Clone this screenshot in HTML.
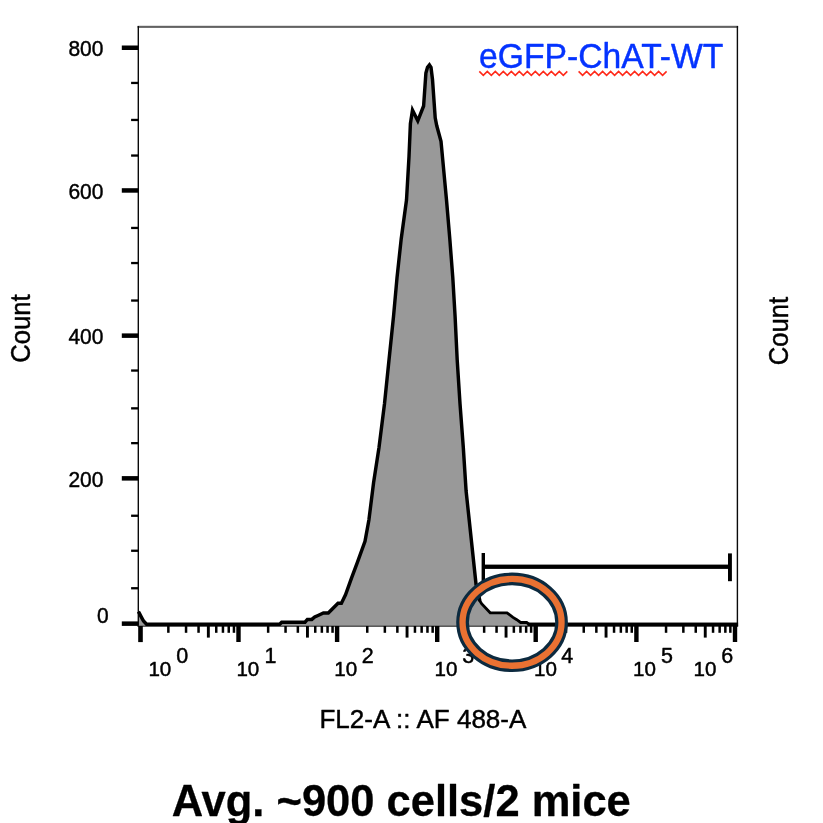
<!DOCTYPE html>
<html><head><meta charset="utf-8"><title>eGFP-ChAT-WT</title>
<style>
html,body{margin:0;padding:0;background:#fff;}
body{width:823px;height:823px;overflow:hidden;}
svg{display:block;}
text{font-family:"Liberation Sans",sans-serif;fill:#000;stroke:#000;stroke-width:0.45px;stroke-linejoin:round;}
</style></head><body>
<svg width="823" height="823" viewBox="0 0 823 823">
<rect x="0" y="0" width="823" height="823" fill="#fff"/>
<path d="M138.4 611.6 L139.3 613.2 L141.1 616.6 L143.5 621.0 L146.6 624.3 L279.7 624.3 L281.7 622.2 L305.0 622.2 L307.4 619.4 L311.8 619.4 L314.7 617.0 L318.6 615.2 L323.4 613.0 L328.3 613.0 L338.0 603.2 L341.4 603.2 L345.5 594.8 L351.4 578.3 L357.2 562.8 L365.0 541.4 L368.9 520.0 L373.6 482.5 L379.0 447.5 L384.5 403.7 L389.0 360.0 L393.5 316.6 L397.0 277.8 L401.2 238.9 L406.5 200.0 L409.0 156.6 L410.4 123.6 L412.5 110.2 L417.8 120.8 L423.6 106.0 L425.9 73.0 L427.5 67.2 L429.4 64.9 L431.0 67.4 L432.5 79.5 L435.2 117.8 L436.7 125.5 L441.0 141.2 L446.5 200.0 L449.8 238.9 L452.8 277.8 L455.1 316.6 L457.2 360.0 L460.0 403.7 L463.3 447.5 L466.1 491.0 L469.2 520.0 L476.0 584.0 L479.9 601.0 L481.6 603.6 L490.2 612.8 L507.0 612.8 L513.0 617.4 L516.8 619.7 L520.6 622.5 L526.7 622.5 L529.2 624.3 L737.6 624.3 L737.6 626.3 L138.2 626.3 Z" fill="#999999" stroke="none"/>
<rect x="137.6" y="25.8" width="600.5" height="2.1" fill="#626262"/>
<rect x="137.6" y="26" width="1.4" height="600.6" fill="#0a0a0a"/>
<rect x="736.7" y="26" width="1.4" height="600.6" fill="#0a0a0a"/>
<rect x="137.6" y="625.6" width="600.5" height="1.2" fill="#3a3a3a"/>
<path d="M476.0 584.0 L479.9 601.0 L481.6 603.6 L490.2 612.8 L507.0 612.8 L513.0 617.4 L516.8 619.7 L520.6 622.5 L526.7 622.5 L529.2 624.3" fill="none" stroke="#000" stroke-width="2.8" stroke-linejoin="miter" stroke-miterlimit="6" stroke-linecap="butt"/>
<path d="M138.4 611.6 L139.3 613.2 L141.1 616.6 L143.5 621.0 L146.6 624.3 L279.7 624.3 L281.7 622.2 L305.0 622.2 L307.4 619.4 L311.8 619.4 L314.7 617.0 L318.6 615.2 L323.4 613.0 L328.3 613.0 L338.0 603.2 L341.4 603.2 L345.5 594.8 L351.4 578.3 L357.2 562.8 L365.0 541.4 L368.9 520.0 L373.6 482.5 L379.0 447.5 L384.5 403.7 L389.0 360.0 L393.5 316.6 L397.0 277.8 L401.2 238.9 L406.5 200.0 L409.0 156.6 L410.4 123.6 L412.5 110.2 L417.8 120.8 L423.6 106.0 L425.9 73.0 L427.5 67.2 L429.4 64.9 L431.0 67.4 L432.5 79.5 L435.2 117.8 L436.7 125.5 L441.0 141.2 L446.5 200.0 L449.8 238.9 L452.8 277.8 L455.1 316.6 L457.2 360.0 L460.0 403.7 L463.3 447.5 L466.1 491.0 L469.2 520.0 L476.0 584.0 L479.9 601.0" fill="none" stroke="#000" stroke-width="3.45" stroke-linejoin="miter" stroke-miterlimit="6" stroke-linecap="butt"/>
<rect x="527.5" y="622.55" width="210.6" height="3.5" fill="#000"/>
<rect x="121.8" y="45.5" width="16.6" height="4.5" fill="#000"/>
<rect x="131.1" y="81.8" width="7.3" height="2.3" fill="#000"/>
<rect x="131.1" y="118.8" width="7.3" height="2.3" fill="#000"/>
<rect x="131.1" y="154.4" width="7.3" height="2.3" fill="#000"/>
<rect x="121.8" y="188.2" width="16.6" height="4.5" fill="#000"/>
<rect x="131.1" y="226.8" width="7.3" height="2.3" fill="#000"/>
<rect x="131.1" y="261.9" width="7.3" height="2.3" fill="#000"/>
<rect x="131.1" y="299.4" width="7.3" height="2.3" fill="#000"/>
<rect x="121.8" y="333.4" width="16.6" height="4.5" fill="#000"/>
<rect x="131.1" y="369.4" width="7.3" height="2.3" fill="#000"/>
<rect x="131.1" y="407.2" width="7.3" height="2.3" fill="#000"/>
<rect x="131.1" y="442.0" width="7.3" height="2.3" fill="#000"/>
<rect x="121.8" y="476.1" width="16.6" height="4.5" fill="#000"/>
<rect x="131.1" y="514.6" width="7.3" height="2.3" fill="#000"/>
<rect x="131.1" y="549.6" width="7.3" height="2.3" fill="#000"/>
<rect x="131.1" y="587.1" width="7.3" height="2.3" fill="#000"/>
<rect x="121.8" y="621.4" width="16.6" height="4.5" fill="#000"/>
<rect x="138.2" y="626.0" width="4.6" height="16.1" fill="#000"/>
<rect x="167.1" y="626.0" width="2.5" height="6.8" fill="#000"/>
<rect x="184.8" y="626.0" width="2.5" height="6.8" fill="#000"/>
<rect x="197.3" y="626.0" width="2.5" height="6.8" fill="#000"/>
<rect x="206.9" y="626.0" width="2.9" height="11.6" fill="#000"/>
<rect x="215.0" y="626.0" width="2.5" height="6.8" fill="#000"/>
<rect x="221.7" y="626.0" width="2.5" height="6.8" fill="#000"/>
<rect x="227.5" y="626.0" width="2.5" height="6.8" fill="#000"/>
<rect x="232.7" y="626.0" width="2.5" height="6.8" fill="#000"/>
<rect x="236.3" y="626.0" width="4.4" height="16.0" fill="#000"/>
<rect x="266.9" y="626.0" width="2.5" height="6.8" fill="#000"/>
<rect x="284.3" y="626.0" width="2.5" height="6.8" fill="#000"/>
<rect x="296.6" y="626.0" width="2.5" height="6.8" fill="#000"/>
<rect x="306.0" y="626.0" width="2.9" height="11.6" fill="#000"/>
<rect x="314.0" y="626.0" width="2.5" height="6.8" fill="#000"/>
<rect x="320.6" y="626.0" width="2.5" height="6.8" fill="#000"/>
<rect x="326.3" y="626.0" width="2.5" height="6.8" fill="#000"/>
<rect x="331.3" y="626.0" width="2.5" height="6.8" fill="#000"/>
<rect x="334.9" y="626.0" width="4.4" height="16.0" fill="#000"/>
<rect x="366.0" y="626.0" width="2.5" height="6.8" fill="#000"/>
<rect x="383.6" y="626.0" width="2.5" height="6.8" fill="#000"/>
<rect x="396.1" y="626.0" width="2.5" height="6.8" fill="#000"/>
<rect x="405.6" y="626.0" width="2.9" height="11.6" fill="#000"/>
<rect x="413.7" y="626.0" width="2.5" height="6.8" fill="#000"/>
<rect x="420.4" y="626.0" width="2.5" height="6.8" fill="#000"/>
<rect x="426.2" y="626.0" width="2.5" height="6.8" fill="#000"/>
<rect x="431.4" y="626.0" width="2.5" height="6.8" fill="#000"/>
<rect x="435.0" y="626.0" width="4.4" height="16.0" fill="#000"/>
<rect x="465.6" y="626.0" width="2.5" height="6.8" fill="#000"/>
<rect x="482.9" y="626.0" width="2.5" height="6.8" fill="#000"/>
<rect x="495.3" y="626.0" width="2.5" height="6.8" fill="#000"/>
<rect x="504.6" y="626.0" width="2.9" height="11.6" fill="#000"/>
<rect x="512.6" y="626.0" width="2.5" height="6.8" fill="#000"/>
<rect x="519.2" y="626.0" width="2.5" height="6.8" fill="#000"/>
<rect x="524.9" y="626.0" width="2.5" height="6.8" fill="#000"/>
<rect x="529.9" y="626.0" width="2.5" height="6.8" fill="#000"/>
<rect x="533.5" y="626.0" width="4.4" height="16.0" fill="#000"/>
<rect x="564.8" y="626.0" width="2.5" height="6.8" fill="#000"/>
<rect x="582.5" y="626.0" width="2.5" height="6.8" fill="#000"/>
<rect x="595.1" y="626.0" width="2.5" height="6.8" fill="#000"/>
<rect x="604.6" y="626.0" width="2.9" height="11.6" fill="#000"/>
<rect x="612.8" y="626.0" width="2.5" height="6.8" fill="#000"/>
<rect x="619.6" y="626.0" width="2.5" height="6.8" fill="#000"/>
<rect x="625.4" y="626.0" width="2.5" height="6.8" fill="#000"/>
<rect x="630.5" y="626.0" width="2.5" height="6.8" fill="#000"/>
<rect x="634.2" y="626.0" width="4.4" height="16.0" fill="#000"/>
<rect x="664.8" y="626.0" width="2.5" height="6.8" fill="#000"/>
<rect x="682.1" y="626.0" width="2.5" height="6.8" fill="#000"/>
<rect x="694.5" y="626.0" width="2.5" height="6.8" fill="#000"/>
<rect x="703.8" y="626.0" width="2.9" height="11.6" fill="#000"/>
<rect x="711.8" y="626.0" width="2.5" height="6.8" fill="#000"/>
<rect x="718.4" y="626.0" width="2.5" height="6.8" fill="#000"/>
<rect x="724.1" y="626.0" width="2.5" height="6.8" fill="#000"/>
<rect x="729.1" y="626.0" width="2.5" height="6.8" fill="#000"/>
<rect x="732.8" y="626.0" width="4.4" height="16.0" fill="#000"/>
<text x="103.4" y="56.2" font-size="22" textLength="35.0" lengthAdjust="spacingAndGlyphs" text-anchor="end">800</text>
<text x="103.4" y="199.4" font-size="22" textLength="35.0" lengthAdjust="spacingAndGlyphs" text-anchor="end">600</text>
<text x="103.4" y="343.8" font-size="22" textLength="35.0" lengthAdjust="spacingAndGlyphs" text-anchor="end">400</text>
<text x="103.4" y="487.2" font-size="22" textLength="35.0" lengthAdjust="spacingAndGlyphs" text-anchor="end">200</text>
<text x="108.6" y="622.5" font-size="22" textLength="11.67" lengthAdjust="spacingAndGlyphs" text-anchor="end">0</text>
<text x="148.4" y="676.3" font-size="20.6">10</text><text x="176.2" y="662.5" font-size="21.5">0</text>
<text x="236.4" y="676.3" font-size="20.6">10</text><text x="264.4" y="662.5" font-size="21.5">1</text>
<text x="334.3" y="676.3" font-size="20.6">10</text><text x="361.7" y="662.5" font-size="21.5">2</text>
<text x="434.6" y="676.3" font-size="20.6">10</text><text x="462.2" y="662.5" font-size="21.5">3</text>
<text x="534.0" y="676.3" font-size="20.6">10</text><text x="561.3" y="662.5" font-size="21.5">4</text>
<text x="633.1" y="676.3" font-size="20.6">10</text><text x="661.1" y="662.5" font-size="21.5">5</text>
<text x="693.5" y="676.3" font-size="20.6">10</text><text x="721.3" y="662.5" font-size="21.5">6</text>
<text transform="translate(30.2,328.6) rotate(-90)" font-size="27.6" textLength="68.5" lengthAdjust="spacingAndGlyphs" text-anchor="middle">Count</text>
<text transform="translate(788.3,331.1) rotate(-90)" font-size="27.6" textLength="68.5" lengthAdjust="spacingAndGlyphs" text-anchor="middle">Count</text>
<text x="422.9" y="727.9" font-size="26.6" textLength="207" lengthAdjust="spacingAndGlyphs" text-anchor="middle">FL2-A :: AF 488-A</text>
<text x="401.3" y="815.7" font-size="43.5" font-weight="bold" textLength="459" lengthAdjust="spacingAndGlyphs" text-anchor="middle" style="stroke-width:0.3px">Avg. ~900 cells/2 mice</text>
<text x="479.1" y="68.3" font-size="35" textLength="244.3" lengthAdjust="spacingAndGlyphs" style="fill:#0433ff;stroke:#0433ff">eGFP-ChAT-WT</text>
<path d="M479.3 71.4 L483.3 75.4 L487.3 71.4 L491.3 75.4 L495.3 71.4 L499.3 75.4 L503.3 71.4 L507.3 75.4 L511.3 71.4 L515.3 75.4 L519.3 71.4 L523.3 75.4 L527.3 71.4 L531.3 75.4 L535.3 71.4 L539.3 75.4 L543.3 71.4 L547.3 75.4 L551.3 71.4 L555.3 75.4 L559.3 71.4 L563.3 75.4 L567.3 71.4" fill="none" stroke="#ff2a1a" stroke-width="1.6"/>
<path d="M578.6 71.4 L582.6 75.4 L586.6 71.4 L590.6 75.4 L594.6 71.4 L598.6 75.4 L602.6 71.4 L606.6 75.4 L610.6 71.4 L614.6 75.4 L618.6 71.4 L622.6 75.4 L626.6 71.4 L630.6 75.4 L634.6 71.4 L638.6 75.4 L642.6 71.4 L646.6 75.4 L650.6 71.4 L654.6 75.4 L658.6 71.4 L662.6 75.4 L666.6 71.4" fill="none" stroke="#ff2a1a" stroke-width="1.6"/>
<rect x="483.2" y="564.6" width="246.7" height="4.3" fill="#000"/>
<rect x="481.6" y="553" width="3.4" height="28" fill="#000"/>
<rect x="728" y="553.4" width="3.9" height="27.8" fill="#000"/>
<ellipse cx="512.05" cy="622.35" rx="49.5" ry="43.4" fill="none" stroke="#0c2a3f" stroke-width="12.7"/>
<ellipse cx="512.05" cy="622.35" rx="49.5" ry="43.4" fill="none" stroke="#e97132" stroke-width="6.3"/>
</svg>
</body></html>
